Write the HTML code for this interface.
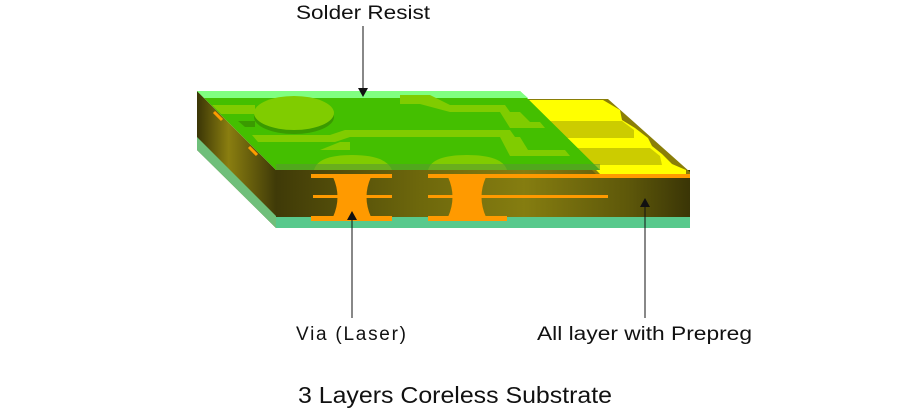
<!DOCTYPE html>
<html><head><meta charset="utf-8"><style>
html,body{margin:0;padding:0;background:#fff;}
svg{display:block;}
text{font-family:"Liberation Sans","Noto Sans CJK JP",sans-serif;fill:#111;}
</style></head><body>
<svg width="900" height="410" viewBox="0 0 900 410" xmlns="http://www.w3.org/2000/svg">
<defs>
<linearGradient id="front" x1="0" x2="1" y1="0" y2="0">
<stop offset="0" stop-color="#3f3a08"/><stop offset="0.35" stop-color="#6e680c"/><stop offset="0.6" stop-color="#857d10"/><stop offset="0.85" stop-color="#5e580a"/><stop offset="1" stop-color="#3a3506"/>
</linearGradient>
<linearGradient id="side" x1="0" x2="1" y1="0" y2="0">
<stop offset="0" stop-color="#3a3506"/><stop offset="0.4" stop-color="#8a7e10"/><stop offset="1" stop-color="#3f3a08"/>
</linearGradient>
</defs>
<polygon points="197,91 276,170 276,228 197,150" fill="url(#side)"/>
<polygon points="197,137 276,216 276,228 197,150" fill="#6fbf7a"/>
<rect x="276" y="170" width="414" height="48" fill="url(#front)"/>
<rect x="276" y="217" width="414" height="11" fill="#58c98c"/>
<polygon points="530,99 608,99 690,172 690,178 600,178 520,99" fill="#8a7e08"/>
<polygon points="528,100 603,100 620,110 622,120 635,128 648,138 652,146 662,154 672,164 686,170 686,174 600,174" fill="#ffff00"/>
<polygon points="548,121 622,121 634,130 634,138 560,138" fill="#cccc00"/>
<polygon points="574,148 650,148 660,156 662,165 586,165" fill="#cccc00"/>
<polygon points="197,91 520,91 600,170 276,170" fill="#44bf00"/>
<polygon points="197,91 520,91 528,98 204,98" fill="#80ff80"/>
<polygon points="212,105 255,105 255,114 221,114" fill="#80cc00"/>
<polygon points="400,95 430,95 450,105 505,105 510,112 450,112 420,104 400,104" fill="#80cc00"/>
<polygon points="500,112 520,112 530,122 540,122 545,128 510,128" fill="#80cc00"/>
<polygon points="252,135 330,135 345,130 510,130 515,137 350,137 335,142 258,142" fill="#80cc00"/>
<polygon points="500,137 520,137 528,150 565,150 570,156 510,156" fill="#80cc00"/>
<polygon points="320,150 340,142 350,142 350,150" fill="#80cc00"/>
<polygon points="238,121 255,121 255,127 245,127" fill="#3a9a00"/>
<ellipse cx="294" cy="117" rx="40" ry="17" fill="#3a9a00"/>
<ellipse cx="294" cy="113" rx="40" ry="17" fill="#80cc00"/>
<path d="M314,170 Q318,155 352,155 Q386,155 392,170 Z" fill="#80cc00"/>
<path d="M428,170 Q432,155 467,155 Q502,155 507,170 Z" fill="#80cc00"/>
<rect x="276" y="164" width="324" height="6" fill="#5a9a30" opacity="0.6"/>
<rect x="311" y="174" width="81" height="4" fill="#ff9a00"/>
<rect x="428" y="174" width="262" height="4" fill="#ff9a00"/>
<rect x="313" y="195" width="79" height="3" fill="#ff9a00"/>
<rect x="428" y="195" width="180" height="3" fill="#ff9a00"/>
<rect x="311" y="216" width="81" height="5" fill="#ff9a00"/>
<rect x="428" y="216" width="79" height="5" fill="#ff9a00"/>
<path d="M333,177 L371,177 Q362,197 371,217 L333,217 Q342,197 333,177 Z" fill="#ff9a00"/>
<path d="M448,177 L486,177 Q477,197 486,217 L448,217 Q457,197 448,177 Z" fill="#ff9a00"/>
<line x1="214" y1="112" x2="222" y2="120" stroke="#ff9a00" stroke-width="3"/>
<line x1="249" y1="147" x2="257" y2="155" stroke="#ff9a00" stroke-width="3"/>
<line x1="363" y1="26" x2="363" y2="90" stroke="#111" stroke-width="1"/>
<polygon points="358,88 368,88 363,97" fill="#111"/>
<line x1="352" y1="318" x2="352" y2="218" stroke="#111" stroke-width="1"/>
<polygon points="347,220 357,220 352,211" fill="#111"/>
<line x1="645" y1="318" x2="645" y2="205" stroke="#111" stroke-width="1"/>
<polygon points="640,207 650,207 645,198" fill="#111"/>
<text x="296" y="19" font-size="19" textLength="134" lengthAdjust="spacingAndGlyphs">Solder Resist</text>
<text x="296" y="340" font-size="19" textLength="110" lengthAdjust="spacing">Via (Laser)</text>
<text x="537" y="340" font-size="19" textLength="215" lengthAdjust="spacingAndGlyphs">All layer with Prepreg</text>
<text x="298" y="403" font-size="23" textLength="314" lengthAdjust="spacingAndGlyphs">3 Layers Coreless Substrate</text>
</svg>
</body></html>
